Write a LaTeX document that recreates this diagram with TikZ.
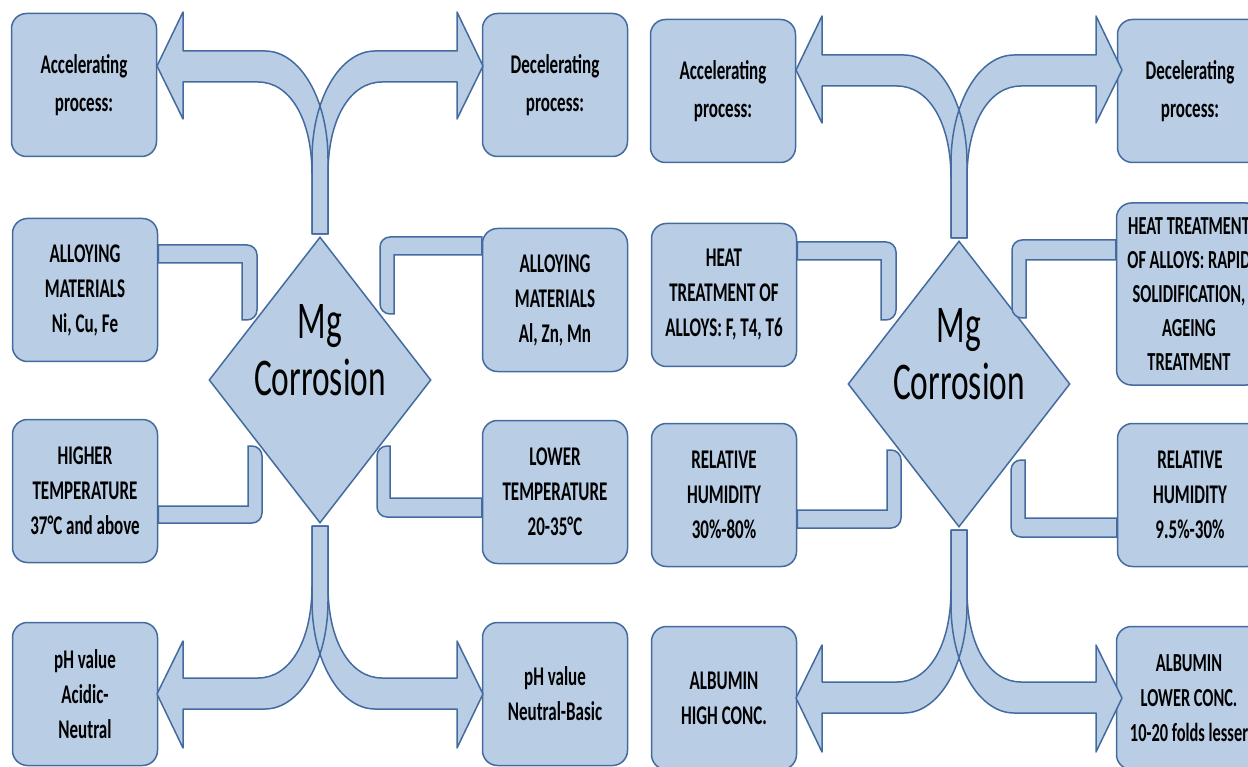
\documentclass[tikz,border=0pt]{standalone}
\usepackage{fontspec}
\setmainfont{Carlito}[FakeStretch=0.63]
\usetikzlibrary{shapes.geometric}

\definecolor{boxblue}{RGB}{185,205,229}
\definecolor{lineblue}{RGB}{68,107,160}

\tikzset{
  factor/.style = {draw=lineblue, fill=boxblue, line width=1.5pt, rounded corners=15pt,
    minimum width=145pt, minimum height=143pt, align=center, inner sep=2pt,
    font=\fontsize{27}{35}\selectfont\bfseries},
  hub/.style = {diamond, draw=lineblue, fill=boxblue, line width=1.5pt,
    minimum width=222pt, minimum height=286pt, inner sep=0pt},
  hubtext/.style = {align=center, font=\fontsize{53}{57}\selectfont},
  band/.style = {draw=lineblue, fill=boxblue, line width=1.5pt}
}

% one curved branch of the fork, around the centre of a diamond
\newcommand\forkpath{(8,-146) -- (8,-221) .. controls (8,-281) and (-20,-329) .. (-55,-329)
  -- (-137,-329) -- (-137,-368) -- (-163,-314) -- (-137,-261) -- (-137,-298) -- (-62,-298)
  .. controls (-30,-298) and (-8,-261) .. (-8,-206) -- (-8,-146) -- cycle}

\begin{document}
\begin{tikzpicture}[x=1pt, y=-1pt]

\useasboundingbox (0,0) rectangle (1248,767);
\clip (0,0) rectangle (1248,767);

% left half
\node[hub] (mgL) at (320,380) {};
\node[hubtext] (mgtxtL) at (320,350) {Mg\\Corrosion};

\node[factor, font=\fontsize{27}{38}\selectfont\bfseries] (accL) at (84,85) {Accelerating\\process:};
\node[factor, font=\fontsize{27}{38}\selectfont\bfseries] (decL) at (555,85) {Decelerating\\process:};
\node[factor] (nicufe) at (85,290) {ALLOYING\\MATERIALS\\Ni, Cu, Fe};
\node[factor] (alznmn) at (555,300) {ALLOYING\\MATERIALS\\Al, Zn, Mn};
\node[factor] (hightemp) at (85,491) {HIGHER\\TEMPERATURE\\37°C and above};
\node[factor] (lowtemp) at (555,492) {LOWER\\TEMPERATURE\\20-35°C};
\node[factor] (phacid) at (85,694) {pH value\\Acidic-\\Neutral};
\node[factor] (phbasic) at (555,694) {pH value\\Neutral-Basic};

\draw[band] ([yshift=45pt]nicufe.east) [rounded corners=10pt] -| (257,320)
  [sharp corners] -- (242,320) |- ([yshift=27pt]nicufe.east) -- cycle;
\draw[band] ([yshift=63pt]alznmn.west) [rounded corners=10pt] -| (380,314)
  [sharp corners] -- (394,314) |- ([yshift=45pt]alznmn.west) -- cycle;
\draw[band] ([yshift=-32pt]hightemp.east) [rounded corners=10pt] -| (262,446)
  [sharp corners] -- (248,446) |- ([yshift=-15pt]hightemp.east) -- cycle;
\draw[band] ([yshift=-25pt]lowtemp.west) [rounded corners=10pt] -| (377,446)
  [sharp corners] -- (390,446) |- ([yshift=-6pt]lowtemp.west) -- cycle;

% right half
\begin{scope}[shift={(639,4)}]
\node[hub] (mgR) at (320,380) {};
\node[hubtext] (mgtxtR) at (320,350) {Mg\\Corrosion};

\node[factor, font=\fontsize{27}{38}\selectfont\bfseries] (accR) at (84,87) {Accelerating\\process:};
\node[factor, font=\fontsize{27}{38}\selectfont\bfseries] (decR) at (551,87) {Decelerating\\process:};
\node[factor] (heatFT) at (85,291) {HEAT\\TREATMENT OF\\ALLOYS: F, T4, T6};
\node[factor, minimum height=182pt, font=\fontsize{26}{34}\selectfont\bfseries] (heatRapid) at (550,290)
  {HEAT TREATMENT\\OF ALLOYS: RAPID\\SOLIDIFICATION,\\AGEING\\TREATMENT};
\node[factor] (humHigh) at (85,491) {RELATIVE\\HUMIDITY\\30\%-80\%};
\node[factor] (humLow) at (551,491) {RELATIVE\\HUMIDITY\\9.5\%-30\%};
\node[factor] (albHigh) at (85,694) {ALBUMIN\\HIGH CONC.};
\node[factor, font=\fontsize{26}{35}\selectfont\bfseries] (albLow) at (550,694) {ALBUMIN\\LOWER CONC.\\10-20 folds lesser};

\draw[band] ([yshift=53pt]heatFT.east) [rounded corners=10pt] -| (257,316)
  [sharp corners] -- (242,316) |- ([yshift=35pt]heatFT.east) -- cycle;
\draw[band] ([yshift=54pt]heatRapid.west) [rounded corners=10pt] -| (373,314)
  [sharp corners] -- (387,314) |- ([yshift=34pt]heatRapid.west) -- cycle;
\draw[band] ([yshift=-33pt]humHigh.east) [rounded corners=10pt] -| (262,446)
  [sharp corners] -- (248,446) |- ([yshift=-15pt]humHigh.east) -- cycle;
\draw[band] ([yshift=-42pt]humLow.west) [rounded corners=10pt] -| (372,456)
  [sharp corners] -- (386,456) |- ([yshift=-23pt]humLow.west) -- cycle;
\end{scope}

% the curved block arrows above and below each diamond
\foreach \hub in {mgL,mgR}{
  \foreach \sx/\sy in {1/1,-1/1,1/-1,-1/-1}
    \fill[boxblue, shift={(\hub.center)}, xscale=\sx, yscale=\sy] \forkpath;
  \foreach \sx/\sy in {1/1,-1/1,1/-1,-1/-1}
    \draw[lineblue, line width=1.5pt, line join=round, shift={(\hub.center)}, xscale=\sx, yscale=\sy] \forkpath;
}

\end{tikzpicture}
\end{document}
